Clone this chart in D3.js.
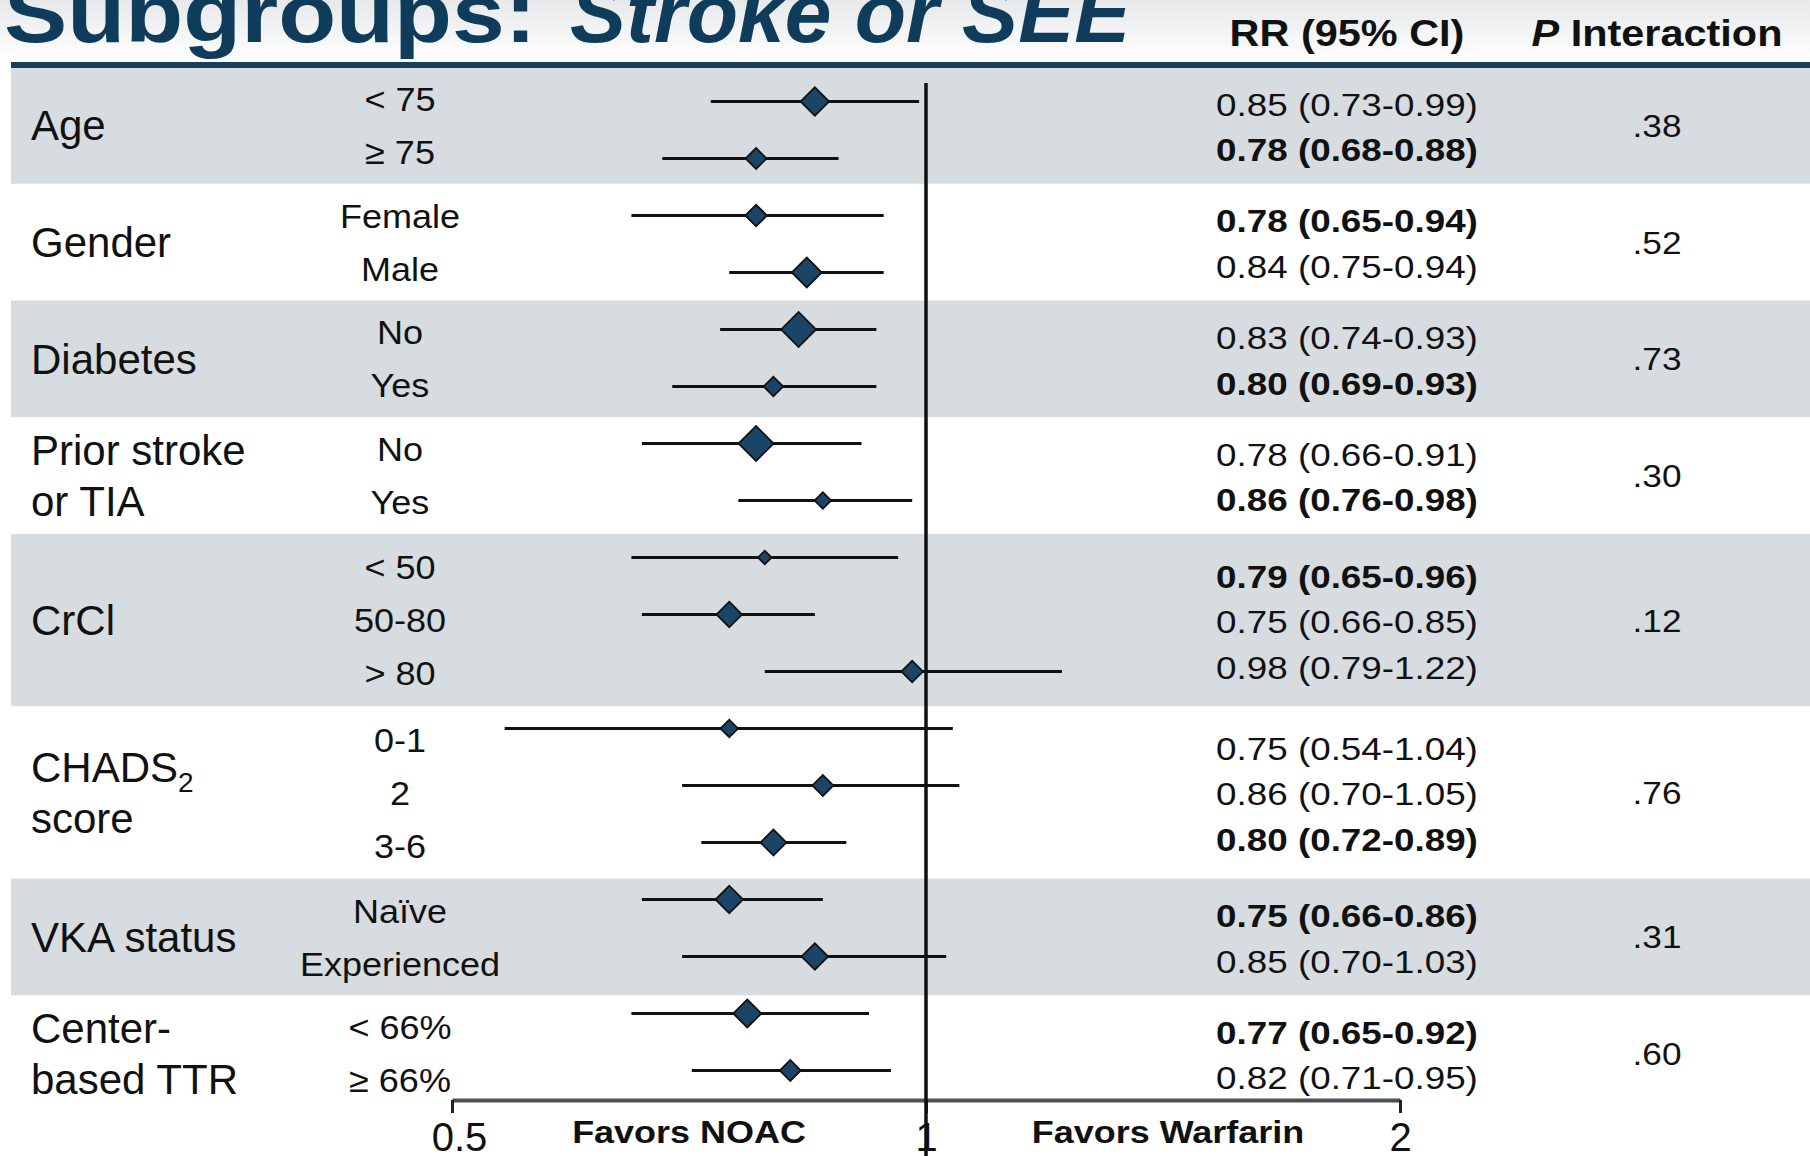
<!DOCTYPE html>
<html>
<head>
<meta charset="utf-8">
<script src="https://cdn.jsdelivr.net/npm/d3@7"></script>
<style>
  body { margin: 0; background: #fff; }
  svg { display: block; }
  text { font-family: "Liberation Sans", Arial, Helvetica, sans-serif; fill: #111; }
</style>
</head>
<body>
<div id="chart"></div>
<script>
// ---- data ----
const groupLabel = [["Age"], ["Gender"], ["Diabetes"], ["Prior stroke", "or TIA"], ["CrCl"],
                    ["CHADS_2", "score"], ["VKA status"], ["Center-", "based TTR"]];
const groupSize = [2, 2, 2, 2, 3, 3, 2, 2];
const pInteraction = [".38", ".52", ".73", ".30", ".12", ".76", ".31", ".60"];

const subgroup = ["< 75", "\u2265 75", "Female", "Male", "No", "Yes", "No", "Yes",
                  "< 50", "50-80", "> 80", "0-1", "2", "3-6", "Na\u00efve", "Experienced",
                  "< 66%", "\u2265 66%"];
const rr     = [0.85, 0.78, 0.78, 0.84, 0.83, 0.80, 0.78, 0.86, 0.79, 0.75, 0.98, 0.75, 0.86, 0.80, 0.75, 0.85, 0.77, 0.82];
const ciLow  = [0.73, 0.68, 0.65, 0.75, 0.74, 0.69, 0.66, 0.76, 0.65, 0.66, 0.79, 0.54, 0.70, 0.72, 0.66, 0.70, 0.65, 0.71];
const ciHigh = [0.99, 0.88, 0.94, 0.94, 0.93, 0.93, 0.91, 0.98, 0.96, 0.85, 1.22, 1.04, 1.05, 0.89, 0.86, 1.03, 0.92, 0.95];
const boldRow = [0, 1, 1, 0, 0, 1, 0, 1, 1, 0, 0, 0, 0, 1, 1, 0, 1, 0];
// relative subgroup weight (drives diamond area)
const boxWeight = [66, 36, 38, 73, 100, 31, 100, 22, 15, 53, 38, 25, 36, 55, 62, 58, 64, 36];
const axisTicks = [0.5, 1, 2];

const width = 1810, height = 1156;
const svg = d3.select("#chart").append("svg")
    .attr("width", width)
    .attr("height", height);

// row -> group lookup
let rowGroup = [], rowIndex = [];
groupSize.forEach(function(n, g){
    for (let k = 0; k < n; k++) { rowGroup.push(g); rowIndex.push(k); }
});

// ---- scales ----
let x = d3.scaleLog().domain([0.5, 2]).range([452, 1400]);
let yRow = d3.scalePoint().domain(d3.range(subgroup.length)).range([101.5, 1070.5]);

let pad = 0.1;
let units = groupSize.map(n => n + pad);
let cum = [0];
units.forEach(u => cum.push(cum[cum.length - 1] + u));
let yBand = d3.scaleLinear().domain([0, cum[cum.length - 1]]).range([67, 1112]);
let groupMid = d3.range(groupSize.length).map(g => (yBand(cum[g]) + yBand(cum[g + 1])) / 2);

function stretch(sel, tx, ty, sx) {
    return sel.attr("transform", "translate(" + tx + "," + ty + ") scale(" + sx + ",1)");
}

// ---- title area ----
let defs = svg.append("defs");
let grad = defs.append("linearGradient").attr("id", "topfade")
    .attr("x1", 0).attr("y1", 0).attr("x2", 0).attr("y2", 1);
grad.append("stop").attr("offset", "0%").attr("stop-color", "#e6e8e9");
grad.append("stop").attr("offset", "100%").attr("stop-color", "#ffffff");
svg.append("rect").attr("x", 0).attr("y", 0).attr("width", width).attr("height", 62)
    .attr("fill", "url(#topfade)");

stretch(svg.append("text"), 4, 42, 1.13)
    .text("Subgroups:")
    .style("font-size", "84px").style("font-weight", "bold").style("fill", "#0f3c5b");
svg.append("text")
    .attr("x", 570).attr("y", 42)
    .text("Stroke or SEE")
    .style("font-size", "84px").style("font-weight", "bold").style("font-style", "italic")
    .style("fill", "#0f3c5b");

stretch(svg.append("text"), 1347, 46, 1.12)
    .attr("text-anchor", "middle")
    .text("RR (95% CI)")
    .style("font-size", "37px").style("font-weight", "bold");
let ph = stretch(svg.append("text"), 1657, 46, 1.12)
    .attr("text-anchor", "middle")
    .style("font-size", "37px").style("font-weight", "bold");
ph.append("tspan").style("font-style", "italic").text("P");
ph.append("tspan").text(" Interaction");

svg.append("rect").attr("x", 11).attr("y", 62).attr("width", width - 11).attr("height", 6)
    .attr("fill", "#163f5b");

// ---- group bands ----
svg.append("g").selectAll("rect")
    .data(d3.range(groupSize.length).filter(g => g % 2 == 0))
    .enter().append("rect")
    .attr("x", 11)
    .attr("y", g => Math.max(68, yBand(cum[g])))
    .attr("width", width - 11)
    .attr("height", g => yBand(cum[g + 1]) - Math.max(68, yBand(cum[g])))
    .attr("fill", "#d6dcdf");

// group labels
let gl = svg.append("g");
groupLabel.forEach(function(lines, g){
    let lh = 51.5;
    lines.forEach(function(line, i){
        let yy = groupMid[g] + (i - (lines.length - 1) / 2) * lh + 0.358 * 42;
        let t = gl.append("text").attr("x", 31).attr("y", yy).style("font-size", "42px");
        if (line.indexOf("_") >= 0) {
            let parts = line.split("_");
            t.append("tspan").text(parts[0]);
            t.append("tspan").attr("dy", 10).style("font-size", "28px").text(parts[1]);
        } else {
            t.text(line);
        }
    });
});

// subgroup labels
svg.append("g").selectAll("text")
    .data(subgroup)
    .enter().append("text")
    .attr("text-anchor", "middle")
    .attr("transform", function(d, i){
        let g = rowGroup[i];
        let yy = groupMid[g] + (rowIndex[i] - (groupSize[g] - 1) / 2) * 53 + 0.358 * 34;
        return "translate(400," + yy + ") scale(1.06,1)";
    })
    .style("font-size", "34px")
    .text(d => d);

// RR text
let f2 = d3.format(".2f");
svg.append("g").selectAll("text")
    .data(rr)
    .enter().append("text")
    .attr("text-anchor", "middle")
    .attr("transform", function(d, i){
        let g = rowGroup[i];
        let yy = groupMid[g] + 1.5 + (rowIndex[i] - (groupSize[g] - 1) / 2) * 45.5 + 0.358 * 32;
        return "translate(1347," + yy + ") scale(1.15,1)";
    })
    .style("font-size", "32px")
    .style("font-weight", (d, i) => boldRow[i] ? "bold" : "normal")
    .text((d, i) => f2(d) + " (" + f2(ciLow[i]) + "-" + f2(ciHigh[i]) + ")");

// P interaction
svg.append("g").selectAll("text")
    .data(pInteraction)
    .enter().append("text")
    .attr("text-anchor", "middle")
    .attr("transform", (d, g) => "translate(1657," + (groupMid[g] + 0.358 * 32) + ") scale(1.1,1)")
    .style("font-size", "32px")
    .text(d => d);

// ---- forest plot ----
let axisY = 1100;
let axisG = svg.append("g")
    .attr("transform", "translate(0," + axisY + ")")
    .call(d3.axisBottom(x).tickValues(axisTicks).tickSize(13).tickSizeOuter(0)
          .tickPadding(10).tickFormat(d3.format("")));
axisG.select(".domain").attr("stroke", "#4b5157").attr("stroke-width", 4);
axisG.selectAll(".tick line").attr("stroke", "#222").attr("stroke-width", 3);
axisG.selectAll(".tick text")
    .attr("fill", "#111")
    .attr("dx", d => d < 1 ? 7 : 0)
    .style("font-size", "40px")
    .style("font-family", "'Liberation Sans', Arial, sans-serif");

// no-effect line
svg.append("line")
    .attr("x1", x(1)).attr("x2", x(1))
    .attr("y1", 83).attr("y2", height)
    .attr("stroke", "#111").attr("stroke-width", 3.5);

// favors labels
stretch(svg.append("text"), x(Math.sqrt(0.5)), 1143, 1.16)
    .attr("text-anchor", "middle")
    .style("font-size", "31px").style("font-weight", "bold")
    .text("Favors NOAC");
stretch(svg.append("text"), x(Math.sqrt(2)) + 5, 1143, 1.16)
    .attr("text-anchor", "middle")
    .style("font-size", "31px").style("font-weight", "bold")
    .text("Favors Warfarin");

// CI lines
svg.append("g").selectAll("line")
    .data(rr)
    .enter().append("line")
    .attr("x1", (d, i) => x(ciLow[i]))
    .attr("x2", (d, i) => x(ciHigh[i]))
    .attr("y1", (d, i) => yRow(i))
    .attr("y2", (d, i) => yRow(i))
    .attr("stroke", "#111")
    .attr("stroke-width", 3);

// diamonds
let area = d3.scaleLinear().domain([0, 100]).range([0, 612]);
svg.append("g").selectAll("path")
    .data(rr)
    .enter().append("path")
    .attr("d", (d, i) => d3.symbol().type(d3.symbolSquare).size(area(boxWeight[i]))())
    .attr("transform", (d, i) => "translate(" + x(d) + "," + yRow(i) + ") rotate(45)")
    .attr("fill", "#1b4566")
    .attr("stroke", "#111")
    .attr("stroke-width", 1.8);
</script>
</body>
</html>
